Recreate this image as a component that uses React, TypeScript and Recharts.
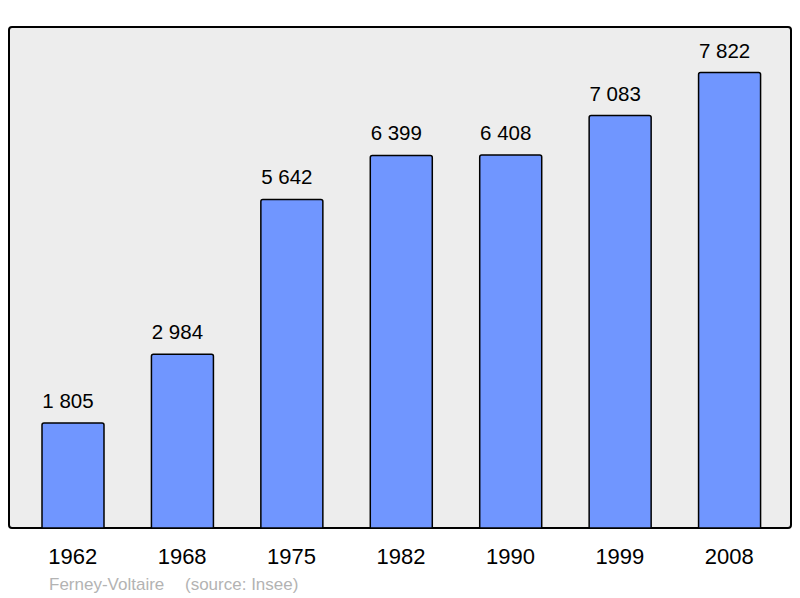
import React from 'react';
import { BarChart, Bar, XAxis, YAxis, CartesianGrid, LabelList, Customized } from 'recharts';

const years = ['1962', '1968', '1975', '1982', '1990', '1999', '2008'];
const population = [1805, 2984, 5642, 6399, 6408, 7083, 7822];
const footerName = 'Ferney-Voltaire';
const footerSource = '(source: Insee)';

const data = years.map((y, i) => ({ year: y, value: population[i] }));
const yMax = Math.max(...population) * 1.1;

const W = 800;
const H = 598;
const M = { top: 27, left: 9, right: 9, bottom: 30 };
const AXIS_H = 40;
const FONT = '"Liberation Sans", Arial, sans-serif';

const fmt = (n: number) => String(n).replace(/\B(?=(\d{3})+(?!\d))/g, ' ');

const Frame = () => {
  const x = M.left;
  const y = M.top;
  const w = W - M.left - M.right;
  const h = H - M.top - M.bottom - AXIS_H;
  return (
    <g>
      <rect x={x} y={y} width={w} height={h} rx={3} ry={3} fill="none" stroke="#000" strokeWidth={2} />
      <text x={49} y={590} fontSize={17} fill="#b3b3b3" fontFamily={FONT}>{footerName}</text>
      <text x={185} y={590} fontSize={17} fill="#b3b3b3" fontFamily={FONT}>{footerSource}</text>
    </g>
  );
};

const renderLabel = (p: any) => {
  const { x, y, width, value } = p;
  return (
    <text x={Number(x) + Number(width) / 2 - 5} y={Number(y) - 15} textAnchor="middle" fontSize={20.5} fill="#000" fontFamily={FONT}>
      {fmt(Number(value))}
    </text>
  );
};

export default function App() {
  return (
    <div style={{ position: 'absolute', left: 0, top: 0, width: W, height: H, background: '#fff' }}>
      <BarChart width={W} height={H} data={data} margin={M}>
        <CartesianGrid fill="#ededed" horizontal={false} vertical={false} stroke="none" />
        <XAxis
          dataKey="year"
          height={AXIS_H}
          padding={{ left: 9, right: 7 }}
          tickLine={false}
          axisLine={false}
          tickSize={0}
          tickMargin={20}
          interval={0}
          tick={{ fontSize: 22, fill: '#000', fontFamily: FONT }}
        />
        <YAxis hide domain={[0, yMax]} />
        <Bar dataKey="value" fill="#7096ff" stroke="#000" strokeWidth={1.5} barSize={62} radius={[2, 2, 0, 0]} isAnimationActive={false}>
          <LabelList dataKey="value" content={renderLabel} />
        </Bar>
        <Customized component={<Frame />} />
      </BarChart>
    </div>
  );
}
